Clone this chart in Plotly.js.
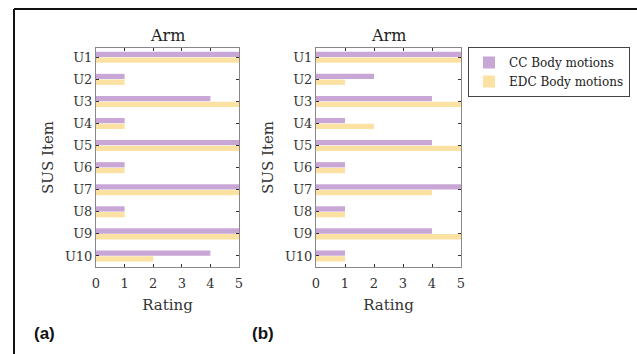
<!DOCTYPE html>
<html>
<head>
<meta charset="utf-8">
<script src="https://cdn.plot.ly/plotly-3.0.1.min.js"></script>
<style>html,body{margin:0;padding:0;background:#fff;}#chart{width:637px;height:354px;}</style>
</head>
<body>
<div id="chart"></div>
<script>
const items = ['U1','U2','U3','U4','U5','U6','U7','U8','U9','U10'];
const ccA  = [5,1,4,1,5,1,5,1,5,4];
const edcA = [5,1,5,1,5,1,5,1,5,2];
const ccB  = [5,2,4,1,4,1,5,1,4,1];
const edcB = [5,1,5,2,5,1,4,1,5,1];
const xTicks = [0,1,2,3,4,5];
const seriesNames = ['CC Body motions','EDC Body motions'];
const panelTitles = ['Arm','Arm'];
const panelLabels = ['(a)','(b)'];

const W = 637, H = 354;
const px = v => v / W;
const py = v => 1 - v / H;
const purple = '#c8a7d7';
const yellow = '#fce2a2';
const serif = 'DejaVu Serif';

const traces = [
  {type:'bar', orientation:'h', y:items, x:ccA, name:seriesNames[0], marker:{color:purple}, xaxis:'x', yaxis:'y', legendgroup:'cc', showlegend:true},
  {type:'bar', orientation:'h', y:items, x:edcA, name:seriesNames[1], marker:{color:yellow}, xaxis:'x', yaxis:'y', legendgroup:'edc', showlegend:true},
  {type:'bar', orientation:'h', y:items, x:ccB, name:seriesNames[0], marker:{color:purple}, xaxis:'x2', yaxis:'y2', legendgroup:'cc', showlegend:false},
  {type:'bar', orientation:'h', y:items, x:edcB, name:seriesNames[1], marker:{color:yellow}, xaxis:'x2', yaxis:'y2', legendgroup:'edc', showlegend:false}
];

function xax(domain, anchor){
  return {domain:domain, anchor:anchor, range:[0,5], tickvals:xTicks, ticks:'inside', ticklen:3, tickcolor:'#333',
    showline:true, linecolor:'#888', linewidth:1, mirror:'ticks', showgrid:false, zeroline:false,
    ticklabelstandoff:4,
    tickfont:{family:serif, size:13, color:'#333'},
    title:{text:'Rating', font:{family:serif, size:15, color:'#333'}, standoff:9}};
}
function yax(domain, anchor){
  return {domain:domain, anchor:anchor, type:'category', categoryarray:items, range:[9.5,-0.42], ticks:'inside', ticklen:3, tickcolor:'#333',
    showline:true, linecolor:'#888', linewidth:1, mirror:'ticks', showgrid:false, zeroline:false,
    tickfont:{family:serif, size:13, color:'#333'},
    title:{text:'SUS Item', font:{family:serif, size:15, color:'#333'}, standoff:7}};
}

const yDom = [py(267), py(48)];
const layout = {
  width:W, height:H, margin:{l:0,r:0,t:0,b:0}, paper_bgcolor:'#fff', plot_bgcolor:'#fff',
  barmode:'group', bargap:0.48, bargroupgap:0.08,
  xaxis: xax([px(96), px(239)], 'y'),
  yaxis: yax(yDom, 'x'),
  xaxis2: xax([px(316), px(461)], 'y2'),
  yaxis2: yax(yDom, 'x2'),
  showlegend:true,
  legend:{x:px(468), y:py(47), xanchor:'left', yanchor:'top', bordercolor:'#444', borderwidth:1, bgcolor:'#fff',
    font:{family:serif, size:12, color:'#222'}, tracegroupgap:0, itemwidth:30},
  annotations:[
    {text:panelTitles[0], xref:'paper', yref:'paper', x:px(167), y:py(35), showarrow:false, xanchor:'center', yanchor:'middle', font:{family:serif, size:16, color:'#222'}},
    {text:panelTitles[1], xref:'paper', yref:'paper', x:px(388), y:py(35), showarrow:false, xanchor:'center', yanchor:'middle', font:{family:serif, size:16, color:'#222'}},
    {text:'<b>'+panelLabels[0]+'</b>', xref:'paper', yref:'paper', x:px(44), y:py(333), showarrow:false, xanchor:'center', yanchor:'middle', font:{family:'Liberation Sans', size:17, color:'#111'}},
    {text:'<b>'+panelLabels[1]+'</b>', xref:'paper', yref:'paper', x:px(263), y:py(333), showarrow:false, xanchor:'center', yanchor:'middle', font:{family:'Liberation Sans', size:17, color:'#111'}}
  ],
  shapes:[
    {type:'line', xref:'paper', yref:'paper', x0:px(14), x1:1, y0:py(9), y1:py(9), line:{color:'#111', width:2}},
    {type:'line', xref:'paper', yref:'paper', x0:px(14), x1:px(14), y0:py(9), y1:0, line:{color:'#111', width:2}}
  ]
};

Plotly.newPlot('chart', traces, layout, {staticPlot:true, displayModeBar:false});
</script>
</body>
</html>
